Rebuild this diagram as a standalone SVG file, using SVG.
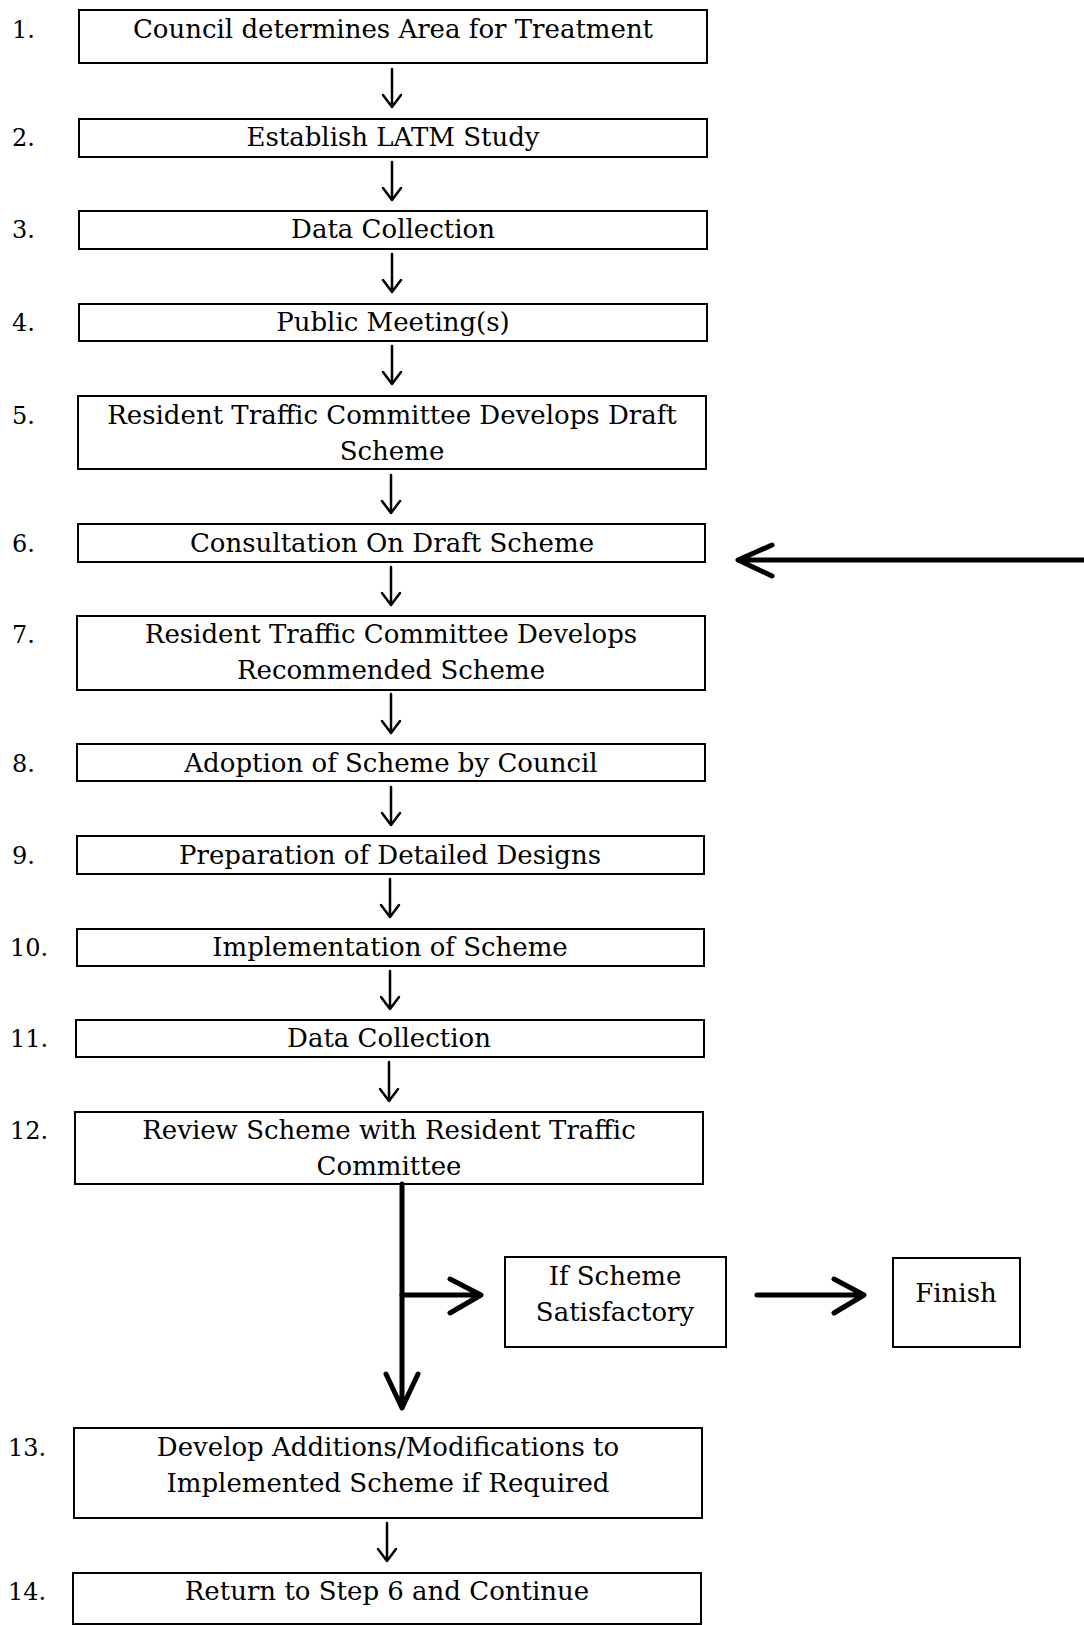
<svg xmlns="http://www.w3.org/2000/svg" width="1084" height="1625" viewBox="0 0 1084 1625">
<defs>
<style>
.box{fill:#fff;stroke:#000;stroke-width:2}
.t{font-family:"DejaVu Serif","Liberation Serif",serif;font-size:26px;fill:#000;text-anchor:middle}
.n{font-family:"DejaVu Serif","Liberation Serif",serif;font-size:24px;fill:#000}
.thin{fill:none;stroke:#000;stroke-width:2.5;stroke-linecap:round;stroke-linejoin:round}
.thick{fill:none;stroke:#000;stroke-width:5;stroke-linecap:round;stroke-linejoin:round}
</style>
</defs>
<rect width="1084" height="1625" fill="#fff"/>
<g id="node1"><text class="n" x="12" y="38">1.</text><rect class="box" x="79" y="10" width="628" height="53"/><text class="t" x="393" y="38">Council determines Area for Treatment</text></g>
<g id="node2"><text class="n" x="12" y="146">2.</text><rect class="box" x="79" y="119" width="628" height="38"/><text class="t" x="393" y="146">Establish LATM Study</text></g>
<g id="node3"><text class="n" x="12" y="238">3.</text><rect class="box" x="79" y="211" width="628" height="38"/><text class="t" x="393" y="238">Data Collection</text></g>
<g id="node4"><text class="n" x="12" y="331">4.</text><rect class="box" x="79" y="304" width="628" height="37"/><text class="t" x="393" y="331">Public Meeting(s)</text></g>
<g id="node5"><text class="n" x="12" y="424">5.</text><rect class="box" x="78" y="396" width="628" height="73"/><text class="t" x="392" y="424">Resident Traffic Committee Develops Draft</text><text class="t" x="392" y="460">Scheme</text></g>
<g id="node6"><text class="n" x="12" y="552">6.</text><rect class="box" x="78" y="524" width="627" height="38"/><text class="t" x="392" y="552">Consultation On Draft Scheme</text></g>
<g id="node7"><text class="n" x="12" y="643">7.</text><rect class="box" x="77" y="616" width="628" height="74"/><text class="t" x="391" y="643">Resident Traffic Committee Develops</text><text class="t" x="391" y="679">Recommended Scheme</text></g>
<g id="node8"><text class="n" x="12" y="772">8.</text><rect class="box" x="77" y="744" width="628" height="37"/><text class="t" x="391" y="772">Adoption of Scheme by Council</text></g>
<g id="node9"><text class="n" x="12" y="864">9.</text><rect class="box" x="77" y="836" width="627" height="38"/><text class="t" x="390" y="864">Preparation of Detailed Designs</text></g>
<g id="node10"><text class="n" x="10" y="956">10.</text><rect class="box" x="77" y="929" width="627" height="37"/><text class="t" x="390" y="956">Implementation of Scheme</text></g>
<g id="node11"><text class="n" x="10" y="1047">11.</text><rect class="box" x="76" y="1020" width="628" height="37"/><text class="t" x="389" y="1047">Data Collection</text></g>
<g id="node12"><text class="n" x="10" y="1139">12.</text><rect class="box" x="75" y="1112" width="628" height="72"/><text class="t" x="389" y="1139">Review Scheme with Resident Traffic</text><text class="t" x="389" y="1175">Committee</text></g>
<g id="nodeIf"><rect class="box" x="505" y="1257" width="221" height="90"/><text class="t" x="615" y="1285">If Scheme</text><text class="t" x="615" y="1321">Satisfactory</text></g>
<g id="nodeFinish"><rect class="box" x="893" y="1258" width="127" height="89"/><text class="t" x="956" y="1302">Finish</text></g>
<g id="node13"><text class="n" x="8" y="1456">13.</text><rect class="box" x="74" y="1428" width="628" height="90"/><text class="t" x="388" y="1456">Develop Additions/Modifications to</text><text class="t" x="388" y="1492">Implemented Scheme if Required</text></g>
<g id="node14"><text class="n" x="8" y="1600">14.</text><rect class="box" x="73" y="1573" width="628" height="51"/><text class="t" x="387" y="1600">Return to Step 6 and Continue</text></g>
<g id="connectors">
<path class="thin" d="M392 69V107M383 95L392 107L401 95"/>
<path class="thin" d="M392 162V200M383 188L392 200L401 188"/>
<path class="thin" d="M392 254V292M383 280L392 292L401 280"/>
<path class="thin" d="M392 346V384M383 372L392 384L401 372"/>
<path class="thin" d="M391 475V513M382 501L391 513L400 501"/>
<path class="thin" d="M391 567V605M382 593L391 605L400 593"/>
<path class="thin" d="M391 694V733M382 721L391 733L400 721"/>
<path class="thin" d="M391 787V825M382 813L391 825L400 813"/>
<path class="thin" d="M390 879V917M381 905L390 917L399 905"/>
<path class="thin" d="M390 971V1009M381 997L390 1009L399 997"/>
<path class="thin" d="M389 1062V1101M380 1089L389 1101L398 1089"/>
<path class="thin" d="M387 1523V1561M378 1549L387 1561L396 1549"/>
<path class="thick" d="M1084 560H740M772 545L738 560L772 576"/>
<path class="thick" d="M402 1184V1407M386 1374L402 1408L418 1374"/>
<path class="thick" d="M402 1295H480M450 1279L481 1295L450 1313"/>
<path class="thick" d="M757 1295H862M834 1279L864 1295L834 1313"/>
</g>
</svg>
